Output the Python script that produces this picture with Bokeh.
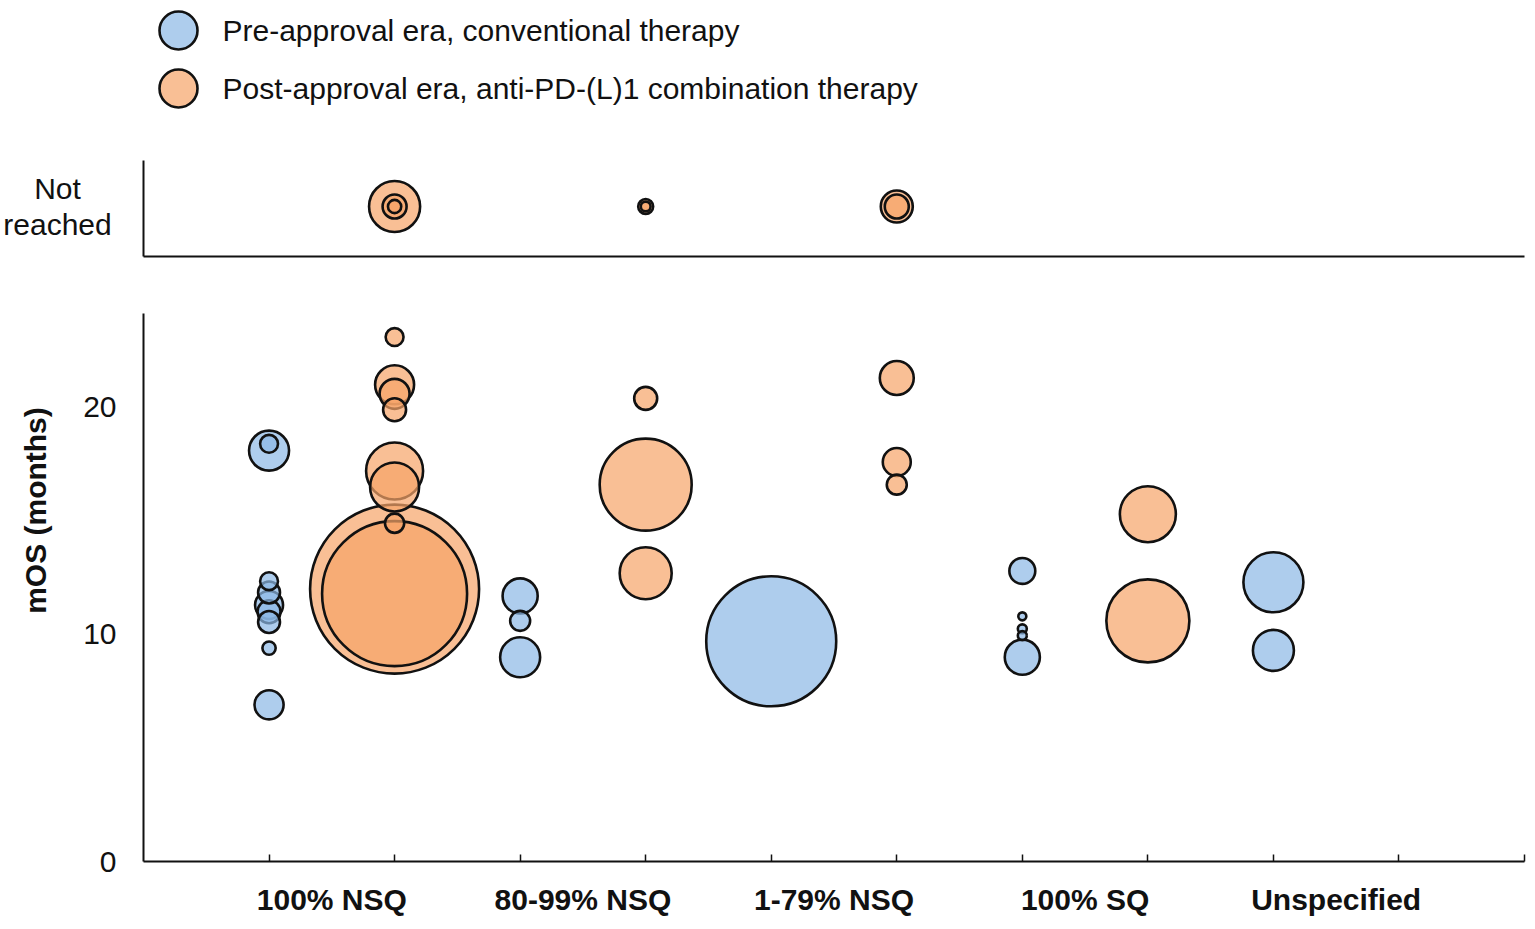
import math
from bokeh.plotting import figure
from bokeh.models import Range1d, FixedTicker, ColumnDataSource
from bokeh.layouts import column, row
from bokeh.embed import file_html
from bokeh.resources import INLINE
from bokeh.core.properties import value

# ---------------- data ----------------
categories = ["100% NSQ", "80-99% NSQ", "1-79% NSQ", "100% SQ", "Unspecified"]
series_names = ["Pre-approval era, conventional therapy",
                "Post-approval era, anti-PD-(L)1 combination therapy"]

# Pre-approval era (blue): category index, median OS (months), patients (bubble area)
pre_cat = [0, 0, 0, 0, 0, 0, 0, 0, 0, 1, 1, 1, 2, 3, 3, 3, 3, 3, 4, 4]
pre_mos = [18.1, 18.4, 12.35, 11.85, 11.3, 11.0, 10.55, 9.4, 6.9,
           11.7, 10.6, 9.0, 9.7, 12.8, 10.8, 10.25, 9.95, 9.0, 12.3, 9.3]
pre_n = [100, 20, 20, 30, 49, 33, 30, 11, 53,
         77, 25, 100, 1056, 42, 4, 5, 5, 77, 225, 105]

# Post-approval era (orange)
post_cat = [0, 0, 0, 0, 0, 0, 0, 0, 0, 1, 1, 1, 2, 2, 2, 3, 3]
post_mos = [23.1, 21.0, 20.6, 19.9, 17.2, 16.5, 14.9, 12.0, 11.8,
            20.4, 16.6, 12.7, 21.3, 17.6, 16.6, 15.3, 10.6]
post_n = [20, 95, 56, 33, 203, 150, 23, 1785, 1314,
          33, 529, 169, 72, 49, 25, 196, 431]

# Post-approval era, median OS not reached
nr_cat = [0, 0, 0, 1, 1, 2, 2]
nr_n = [163, 36, 11, 14, 6, 64, 36]

y_ticks = [0, 10, 20]
y_title = "mOS (months)"
nr_title = ["Not", "reached"]

# ---------------- styles ----------------
FONT = "Liberation Sans"
INK = "#111111"
BLUE = "#8bb8e6"
ORANGE = "#f6a468"
ALPHA = 0.7
LW = 2.6
SCALE = 4.0  # px of diameter per sqrt(patient)

TOTAL_W = 1527
FRAME_LEFT = 143
FRAME_W = 1381
RIGHT = TOTAL_W - FRAME_LEFT - FRAME_W


def bare(fig):
    fig.axis.visible = False
    fig.grid.visible = False
    fig.outline_line_color = None
    return fig


def make_source(cats, mos, ns, offset):
    rows = sorted(zip(cats, mos, ns), key=lambda r: -r[2])
    return ColumnDataSource(dict(
        x=[2 * c + offset for c, _, _ in rows],
        y=[m for _, m, _ in rows],
        size=[SCALE * math.sqrt(n) for _, _, n in rows],
    ))


# ---------------- legend ----------------
LEG_H = 148
leg = bare(figure(width=TOTAL_W, height=LEG_H, x_range=Range1d(0, TOTAL_W),
                  y_range=Range1d(LEG_H, 0), output_backend="svg",
                  toolbar_location=None, min_border=0, min_border_left=0,
                  min_border_right=0, min_border_top=0, min_border_bottom=0))
leg_src = ColumnDataSource(dict(x=[178, 178], y=[30, 88], c=[BLUE, ORANGE],
                                t=series_names, tx=[222, 222]))
leg.scatter("x", "y", size=38, fill_color="c", fill_alpha=ALPHA,
            line_color=INK, line_width=LW, source=leg_src)
leg.text("tx", "y", text="t", text_font=value(FONT), text_font_size="30px",
         text_baseline="middle", text_align="left", text_color=INK, source=leg_src)

# ---------------- "not reached" row ----------------
TOP_H, TOP_T, TOP_B = 142, 12, 34
TOP_STRIP = 120
nr_range = Range1d(0, 1.92)
top_strip = bare(figure(width=TOP_STRIP, height=TOP_H, x_range=Range1d(0, TOP_STRIP),
                        y_range=nr_range, output_backend="svg", toolbar_location=None,
                        min_border_left=0, min_border_right=0,
                        min_border_top=TOP_T, min_border_bottom=TOP_B))
top_strip.text(x=[57, 57], y=[1.36, 0.64], text=nr_title, text_font=value(FONT),
               text_font_size="30px", text_align="center", text_baseline="middle",
               text_color=INK)

top = figure(width=TOTAL_W - TOP_STRIP, height=TOP_H, x_range=Range1d(0, 11),
             y_range=nr_range, output_backend="svg", toolbar_location=None,
             min_border_left=FRAME_LEFT - TOP_STRIP, min_border_right=RIGHT,
             min_border_top=TOP_T, min_border_bottom=TOP_B)
top.grid.visible = False
top.outline_line_color = None
for ax in (top.xaxis[0], top.yaxis[0]):
    ax.ticker = FixedTicker(ticks=[], minor_ticks=[])
    ax.major_tick_line_color = None
    ax.minor_tick_line_color = None
    ax.axis_line_width = 2
    ax.axis_line_color = INK
nr_rows = sorted(zip(nr_cat, nr_n), key=lambda r: -r[1])
nr_src = ColumnDataSource(dict(x=[2 * c + 2 for c, _ in nr_rows],
                               y=[1.0] * len(nr_rows),
                               size=[SCALE * math.sqrt(n) for _, n in nr_rows]))
top.scatter("x", "y", size="size", fill_color=ORANGE, fill_alpha=ALPHA,
            line_color=INK, line_width=LW, source=nr_src)

# ---------------- main row ----------------
MAIN_H, MAIN_T, MAIN_B = 631, 23, 60
MAIN_STRIP = 70
mos_range = Range1d(0, 24.14)
main_strip = bare(figure(width=MAIN_STRIP, height=MAIN_H, x_range=Range1d(0, MAIN_STRIP),
                         y_range=mos_range, output_backend="svg", toolbar_location=None,
                         min_border_left=0, min_border_right=0,
                         min_border_top=MAIN_T, min_border_bottom=MAIN_B))
main_strip.text(x=[35], y=[15.46], text=[y_title], angle=math.pi / 2,
                text_font=value(FONT), text_font_style="bold", text_font_size="30px",
                text_align="center", text_baseline="middle", text_color=INK)

p = figure(width=TOTAL_W - MAIN_STRIP, height=MAIN_H, x_range=Range1d(0, 11),
           y_range=mos_range, output_backend="svg", toolbar_location=None,
           min_border_left=FRAME_LEFT - MAIN_STRIP, min_border_right=RIGHT,
           min_border_top=MAIN_T, min_border_bottom=MAIN_B)
p.grid.visible = False
p.outline_line_color = None

xa = p.xaxis[0]
xa.ticker = FixedTicker(ticks=[2 * i + 1.5 for i in range(len(categories))],
                        minor_ticks=list(range(1, 12)))
xa.major_label_overrides = {2 * i + 1.5: c for i, c in enumerate(categories)}
xa.major_tick_line_color = None
xa.major_tick_in = 0
xa.major_tick_out = 0
xa.minor_tick_in = 7
xa.minor_tick_out = 0
xa.minor_tick_line_width = 1.5
xa.minor_tick_line_color = INK
xa.axis_line_width = 2
xa.axis_line_color = INK
xa.major_label_text_font = FONT
xa.major_label_text_font_style = "bold"
xa.major_label_text_font_size = "30px"
xa.major_label_text_color = INK
xa.major_label_standoff = 21

ya = p.yaxis[0]
ya.ticker = FixedTicker(ticks=y_ticks, minor_ticks=[])
ya.major_tick_line_color = None
ya.major_tick_in = 0
ya.major_tick_out = 0
ya.minor_tick_line_color = None
ya.axis_line_width = 2
ya.axis_line_color = INK
ya.major_label_text_font = FONT
ya.major_label_text_font_size = "30px"
ya.major_label_text_color = INK
ya.major_label_standoff = 27

pre_src = make_source(pre_cat, pre_mos, pre_n, 1)
post_src = make_source(post_cat, post_mos, post_n, 2)
p.scatter("x", "y", size="size", fill_color=BLUE, fill_alpha=ALPHA,
          line_color=INK, line_width=LW, source=pre_src)
p.scatter("x", "y", size="size", fill_color=ORANGE, fill_alpha=ALPHA,
          line_color=INK, line_width=LW, source=post_src)

layout = column(leg, row(top_strip, top, spacing=0), row(main_strip, p, spacing=0),
                spacing=0)
open("out.html", "w").write(file_html(layout, INLINE))
